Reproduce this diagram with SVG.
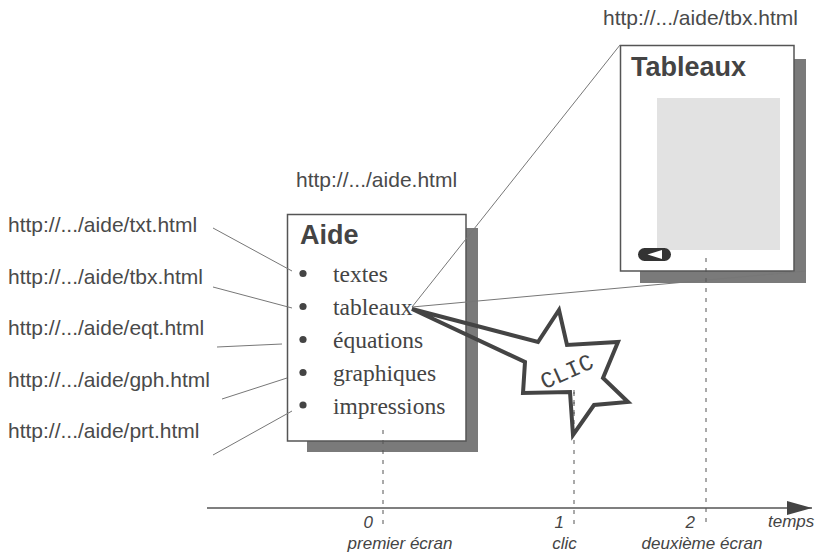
<svg xmlns="http://www.w3.org/2000/svg" width="818" height="559" viewBox="0 0 818 559">
  <defs>
    <style>
      .url { font-family: "Liberation Sans", Arial, sans-serif; font-size: 21px; fill: #4a4a4a; }
      .title { font-family: "Liberation Sans", Arial, sans-serif; font-size: 27px; font-weight: bold; fill: #444; }
      .item { font-family: "Liberation Serif", "Times New Roman", serif; font-size: 23.5px; fill: #444; }
      .ax { font-family: "Liberation Sans", Arial, sans-serif; font-size: 17px; font-style: italic; fill: #444; }
      .page { fill: #fff; stroke: #555; stroke-width: 1.5; }
      .shadow { fill: #7a7a7a; }
      .thin { stroke: #777; stroke-width: 1; fill: none; }
      .thick { stroke: #444; stroke-width: 4; fill: none; stroke-linejoin: miter; }
      .dash { stroke: #555; stroke-width: 1; stroke-dasharray: 4 6; fill: none; }
    </style>
    <marker id="arrow" viewBox="0 0 25 14" refX="25" refY="7" markerWidth="25" markerHeight="14" markerUnits="userSpaceOnUse" orient="auto">
      <path d="M0,0 L25,7 L0,14 Z" fill="#444"/>
    </marker>
  </defs>
  <rect width="818" height="559" fill="#fff"/>

  <!-- URL labels -->
  <g id="labels">
    <text class="url" x="8" y="232">http://.../aide/txt.html</text>
    <text class="url" x="8" y="283.5">http://.../aide/tbx.html</text>
    <text class="url" x="8" y="335">http://.../aide/eqt.html</text>
    <text class="url" x="8" y="386.5">http://.../aide/gph.html</text>
    <text class="url" x="8" y="438">http://.../aide/prt.html</text>
    <text class="url" x="296" y="187">http://.../aide.html</text>
    <text class="url" x="603" y="25">http://.../aide/tbx.html</text>
  </g>

  <!-- Timeline axis -->
  <g id="axis">
    <line x1="207" y1="508" x2="812" y2="508" stroke="#555" stroke-width="1.5" marker-end="url(#arrow)"/>
    <text class="ax" x="373" y="528" text-anchor="end">0</text>
    <text class="ax" x="564" y="528" text-anchor="end">1</text>
    <text class="ax" x="695" y="528" text-anchor="end">2</text>
    <text class="ax" x="768" y="527">temps</text>
    <text class="ax" x="400" y="549" text-anchor="middle">premier écran</text>
    <text class="ax" x="564.5" y="549" text-anchor="middle">clic</text>
    <text class="ax" x="702" y="549" text-anchor="middle">deuxième écran</text>
  </g>

  <!-- Page Aide -->
  <g id="aide-page">
    <rect class="shadow" x="307" y="228" width="171" height="224"/>
    <rect class="page" x="287.5" y="214.5" width="178.5" height="226.5"/>
    <text class="title" x="300" y="244">Aide</text>
    <g fill="#444">
      <circle cx="303" cy="273.5" r="3.6"/>
      <circle cx="303" cy="306.5" r="3.6"/>
      <circle cx="303" cy="339.5" r="3.6"/>
      <circle cx="303" cy="372.5" r="3.6"/>
      <circle cx="303" cy="405" r="3.6"/>
    </g>
    <text class="item" x="333" y="282">textes</text>
    <text class="item" x="333" y="315">tableaux</text>
    <text class="item" x="333" y="348">équations</text>
    <text class="item" x="333" y="381">graphiques</text>
    <text class="item" x="333" y="413.5">impressions</text>
  </g>

  <!-- Page Tableaux -->
  <g id="tableaux-page">
    <rect class="shadow" x="640" y="59" width="166" height="224"/>
    <rect class="page" x="620.5" y="45.5" width="173.5" height="225.5"/>
    <text class="title" x="631" y="76">Tableaux</text>
    <rect x="657" y="98" width="123" height="152" fill="#e2e2e2"/>
    <rect x="638" y="248" width="33" height="13" rx="6.5" fill="#333"/>
    <path d="M647.5,254.5 L662,250 L662,259 Z" fill="#fff"/>
  </g>

  <!-- Connectors -->
  <g id="connectors">
    <line class="thin" x1="213" y1="228" x2="292" y2="271"/>
    <line class="thin" x1="213" y1="287" x2="292" y2="308"/>
    <line class="thin" x1="217" y1="347" x2="282" y2="344"/>
    <line class="thin" x1="222" y1="399" x2="287" y2="378"/>
    <line class="thin" x1="213" y1="455" x2="292" y2="411"/>
    <line class="thin" x1="412" y1="307" x2="620" y2="45"/>
    <line class="thin" x1="412" y1="307" x2="806" y2="271"/>
    <line class="dash" x1="383" y1="430" x2="383" y2="528"/>
    <line class="dash" x1="574" y1="390" x2="574" y2="530"/>
    <line class="dash" x1="706" y1="258" x2="706" y2="528"/>
  </g>

  <!-- CLIC star -->
  <g id="clic-star">
    <path class="thick" fill="#fff" d="M412,309 L538,342 L559,310 L567,345 L618,342 L603,378 L628,402 L594,405 L573,435 L570,392 L523,393 L525,362 Z"/>
    <line class="dash" x1="574" y1="392" x2="574" y2="420"/>
    <text x="567" y="379" text-anchor="middle" transform="rotate(-24 567 372)" font-family="'Liberation Mono', 'Courier New', monospace" font-size="23" fill="#444">CLIC</text>
  </g>
</svg>
